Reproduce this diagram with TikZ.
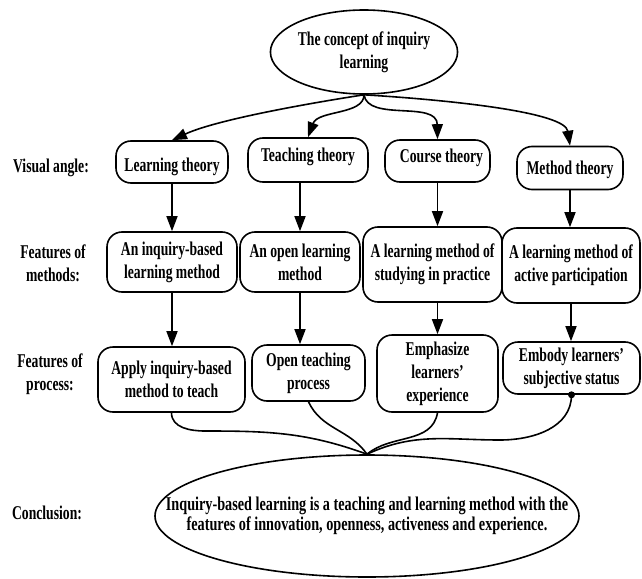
\documentclass[tikz,border=0pt]{standalone}
\usepackage{fontspec}
\setmainfont{Liberation Serif}[FakeStretch=0.70]
\newfontfamily\concfont{Liberation Serif}[FakeStretch=0.73]
\usetikzlibrary{arrows.meta,shapes.geometric}
\newcommand{\shiftv}[2]{\raisebox{#1}[\height][\depth]{#2}}
\begin{document}
\begin{tikzpicture}[x=1pt,y=-1pt,
  font=\bfseries\fontsize{19.5}{23}\selectfont,
  box/.style={draw, line width=1.6pt, rounded corners=15pt, align=center, inner sep=0pt},
  ell/.style={draw, ellipse, line width=1.6pt, align=center, inner sep=0pt},
  lab/.style={align=center, inner sep=0pt},
  arr/.style={line width=1.6pt, -{Triangle[length=15pt,width=11pt]}},
  con/.style={line width=1.6pt}]
\useasboundingbox (0,0) rectangle (642,578);

% top ellipse
\node[ell, minimum width=168pt, minimum height=84pt] (top) at (364,52) {The concept of inquiry\\learning};

% left labels
\node[lab] (lab1) at (51,168) {Visual angle:};
\node[lab] (lab2) at (53,263) {Features of\\methods:};
\node[lab] (lab3) at (50,374) {Features of\\process:};
\node[lab] (lab4) at (47,513) {Conclusion:};

% row 1
\node[box, minimum width=112pt, minimum height=42pt] (L1) at (172,162) {\shiftv{-5pt}{Learning theory}};
\node[box, minimum width=120pt, minimum height=44pt] (T1) at (308,160) {\shiftv{3pt}{Teaching theory}};
\node[box, minimum width=105pt, minimum height=42pt] (C1) at (437.5,161) {\shiftv{3pt}{\hspace*{8pt}Course theory}};
\node[box, minimum width=106pt, minimum height=43pt] (M1) at (570,168) {\shiftv{-2pt}{Method theory}};

% row 2
\node[box, minimum width=130pt, minimum height=60pt] (R2a) at (172,262) {An inquiry-based\\learning method};
\node[box, minimum width=120pt, minimum height=60pt] (R2b) at (300,262) {An open learning\\method};
\node[box, minimum width=139pt, minimum height=75pt] (R2c) at (432.5,264.5) {A learning method of\\studying in practice};
\node[box, minimum width=138pt, minimum height=75pt] (R2d) at (571,265.5) {A learning method of\\active participation};

% row 3
\node[box, minimum width=147pt, minimum height=65pt] (R3a) at (171.5,379.5) {Apply inquiry-based\\method to teach};
\node[box, minimum width=113pt, minimum height=56pt] (R3b) at (308.5,373) {Open teaching\\process};
\node[box, minimum width=121pt, minimum height=77pt] (R3c) at (437.5,373.5) {Emphasize\\learners'\\experience};
\node[box, minimum width=137pt, minimum height=52pt] (R3d) at (571.5,368) {Embody learners'\\subjective status};

% conclusion
\node[ell, minimum width=424pt, minimum height=122pt,
  label={[lab, font=\concfont\bfseries\fontsize{19.5}{20.5}\selectfont]center:{Inquiry-based learning is a teaching and learning method with the\\features of innovation, openness, activeness and experience.}}] (conc) at (367,516) {};

% top connectors
\draw[arr] (top.south) .. controls (330,100) and (220,118) .. (L1.north);
\draw[arr] (top.south) .. controls (364,115) and (318,110) .. (T1.north);
\draw[arr] (top.south) .. controls (368,122) and (437,100) .. (C1.north);
\draw[arr] (top.south) .. controls (450,100) and (565,112) .. (M1.north);

% row1 -> row2
\draw[arr] (L1.south) -- (R2a.north);
\draw[arr] (R2b.north |- T1.south) -- (R2b.north);
\draw[arr] (C1.south) -- (C1.south |- R2c.north);
\draw[arr] (M1.south) -- (M1.south |- R2d.north);

% row2 -> row3
\draw[arr] (R2a.south) -- (R2a.south |- R3a.north);
\draw[arr] (R2b.south) -- (R2b.south |- R3b.north);
\draw[arr] (R3c.north |- R2c.south) -- (R3c.north);
\draw[arr] (R2d.south) -- (R2d.south |- R3d.north);

% bottom connectors
\coordinate (m1) at (205,431);
\coordinate (m2) at (500,440);
\draw[con] (R3a.south) to[out=-90,in=180] (m1) to[out=0,in=160] (conc.north);
\draw[con] (R3b.south) to[out=-65,in=125] (conc.north);
\draw[con] (R3c.south) to[out=-100,in=40] (conc.north);
\draw[con] (R3d.south) to[out=-90,in=0] (m2) to[out=180,in=25] (conc.north);
\fill (R3d.south) circle (3.5pt);
\end{tikzpicture}
\end{document}
